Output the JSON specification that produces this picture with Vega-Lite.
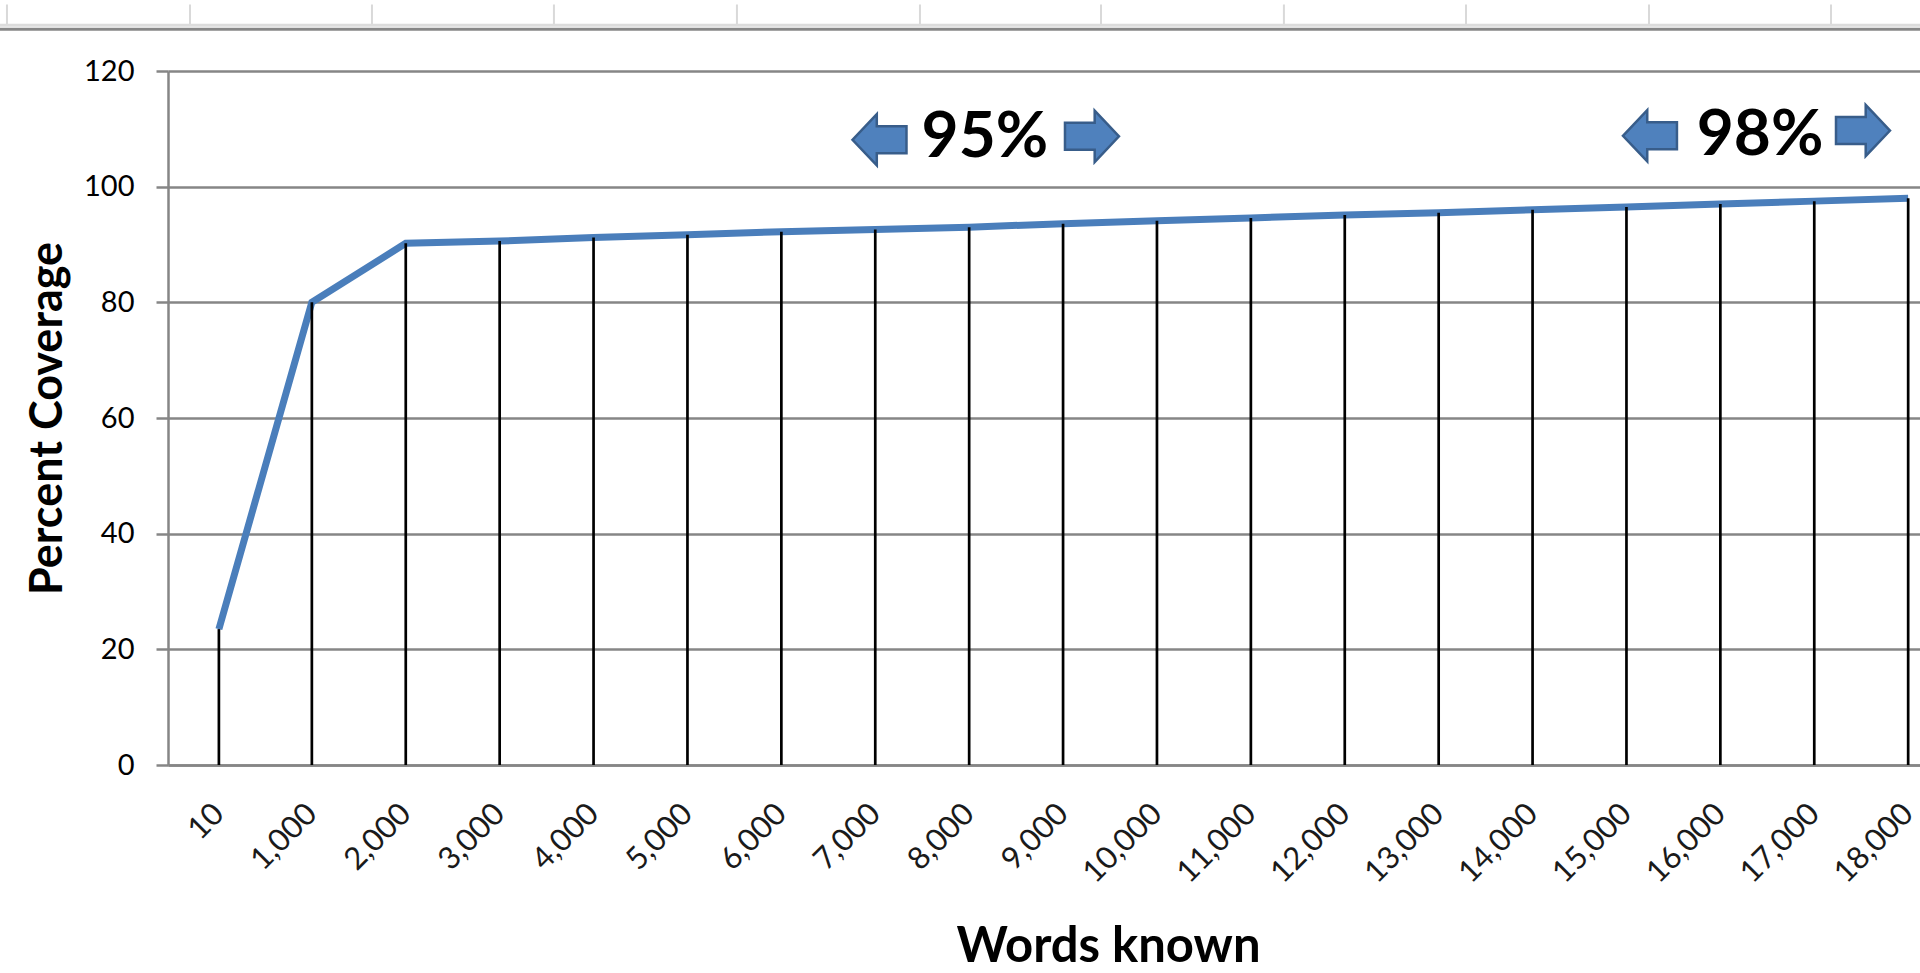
{
  "$schema": "https://vega.github.io/schema/vega-lite/v6.json",
  "width": 1752,
  "height": 694,
  "autosize": {"type": "none"},
  "padding": {"left": 168, "top": 71, "right": 0, "bottom": 208},
  "background": "#ffffff",
  "config": {
    "font": "Lato",
    "view": {"stroke": null}
  },
  "datasets": {
    "coverage": [
      {"words": 10, "coverage": 23.5, "base": 0},
      {"words": 1000, "coverage": 80, "base": 0},
      {"words": 2000, "coverage": 90.2, "base": 0},
      {"words": 3000, "coverage": 90.6, "base": 0},
      {"words": 4000, "coverage": 91.2, "base": 0},
      {"words": 5000, "coverage": 91.7, "base": 0},
      {"words": 6000, "coverage": 92.2, "base": 0},
      {"words": 7000, "coverage": 92.6, "base": 0},
      {"words": 8000, "coverage": 93.0, "base": 0},
      {"words": 9000, "coverage": 93.6, "base": 0},
      {"words": 10000, "coverage": 94.1, "base": 0},
      {"words": 11000, "coverage": 94.6, "base": 0},
      {"words": 12000, "coverage": 95.1, "base": 0},
      {"words": 13000, "coverage": 95.5, "base": 0},
      {"words": 14000, "coverage": 96.0, "base": 0},
      {"words": 15000, "coverage": 96.5, "base": 0},
      {"words": 16000, "coverage": 97.0, "base": 0},
      {"words": 17000, "coverage": 97.5, "base": 0},
      {"words": 18000, "coverage": 98.0, "base": 0}
    ],
    "thresholds": [
      {"label": "95%", "at": 8168, "level": 108.5},
      {"label": "98%", "at": 16422, "level": 108.8}
    ],
    "arrows": [
      {"dir": "left", "at": 7045, "level": 108.1},
      {"dir": "right", "at": 9308, "level": 108.7},
      {"dir": "left", "at": 15250, "level": 108.8},
      {"dir": "right", "at": 17519, "level": 109.7}
    ],
    "sheetColumns": [
      {"edge": -2247, "top": 131.5, "bottom": 127.9},
      {"edge": -298, "top": 131.5, "bottom": 127.9},
      {"edge": 1640, "top": 131.5, "bottom": 127.9},
      {"edge": 3578, "top": 131.5, "bottom": 127.9},
      {"edge": 5527, "top": 131.5, "bottom": 127.9},
      {"edge": 7476, "top": 131.5, "bottom": 127.9},
      {"edge": 9404, "top": 131.5, "bottom": 127.9},
      {"edge": 11352, "top": 131.5, "bottom": 127.9},
      {"edge": 13291, "top": 131.5, "bottom": 127.9},
      {"edge": 15240, "top": 131.5, "bottom": 127.9},
      {"edge": 17178, "top": 131.5, "bottom": 127.9}
    ],
    "sheetBorder": [
      {"from": -2400, "to": 18200, "row": 127.9, "kind": "light"},
      {"from": -2400, "to": 18200, "row": 127.2, "kind": "dark"}
    ]
  },
  "layer": [
    {
      "data": {"name": "coverage"},
      "mark": {"type": "line", "color": "#4A7EBB", "strokeWidth": 7},
      "encoding": {
        "x": {
          "field": "words",
          "type": "quantitative",
          "scale": {"domain": [-532, 18126], "nice": false, "zero": false},
          "axis": {
            "title": "Words known",
            "values": [10, 1000, 2000, 3000, 4000, 5000, 6000, 7000, 8000, 9000, 10000, 11000, 12000, 13000, 14000, 15000, 16000, 17000, 18000],
            "format": ",d",
            "grid": false,
            "ticks": false,
            "tickSize": 0,
            "domainColor": "#868686",
            "domainWidth": 2.5,
            "labelAngle": -45,
            "labelAlign": "right",
            "labelBaseline": "middle",
            "labelPadding": 44,
            "labelFontSize": 31,
            "labelColor": "#1a1a1a",
            "labelOverlap": false,
            "labelFlush": false,
            "labelBound": false,
            "titleFontSize": 49,
            "titleFontWeight": "bold",
            "titleColor": "#000000",
            "titleX": 940,
            "titleY": 196,
            "titleAlign": "center",
            "titleBaseline": "alphabetic"
          }
        },
        "y": {
          "field": "coverage",
          "type": "quantitative",
          "scale": {"domain": [0, 120], "nice": false},
          "axis": {
            "title": "Percent Coverage",
            "values": [0, 20, 40, 60, 80, 100, 120],
            "grid": true,
            "gridColor": "#868686",
            "gridWidth": 2.5,
            "gridOpacity": 1,
            "domainColor": "#868686",
            "domainWidth": 2.5,
            "tickColor": "#868686",
            "tickWidth": 2.5,
            "tickSize": 12,
            "labelFontSize": 29,
            "labelColor": "#000000",
            "labelPadding": 22,
            "labelBaseline": "middle",
            "titleFontSize": 45,
            "titleFontWeight": "bold",
            "titleColor": "#000000",
            "titlePadding": 13
          }
        }
      }
    },
    {
      "data": {"name": "coverage"},
      "mark": {"type": "rule", "color": "#000000", "strokeWidth": 2.7},
      "encoding": {
        "x": {"field": "words", "type": "quantitative"},
        "y": {"field": "base", "type": "quantitative"},
        "y2": {"field": "coverage"}
      }
    },
    {
      "data": {"name": "arrows"},
      "mark": {"type": "point", "filled": true, "fill": "#4F81BD", "stroke": "#385D8A", "strokeWidth": 2.5, "opacity": 1, "size": 2916},
      "encoding": {
        "x": {"field": "at", "type": "quantitative"},
        "y": {"field": "level", "type": "quantitative"},
        "shape": {
          "field": "dir",
          "type": "nominal",
          "legend": null,
          "scale": {
            "domain": ["left", "right"],
            "range": [
              "M-1,0 L-0.1,-0.95 L-0.1,-0.5 L1,-0.5 L1,0.5 L-0.1,0.5 L-0.1,0.95 Z",
              "M1,0 L0.1,-0.95 L0.1,-0.5 L-1,-0.5 L-1,0.5 L0.1,0.5 L0.1,0.95 Z"
            ]
          }
        }
      }
    },
    {
      "data": {"name": "thresholds"},
      "mark": {"type": "text", "fontSize": 64, "fontWeight": "bold", "color": "#000000", "align": "center", "baseline": "middle"},
      "encoding": {
        "x": {"field": "at", "type": "quantitative"},
        "y": {"field": "level", "type": "quantitative"},
        "text": {"field": "label"}
      }
    },
    {
      "data": {"name": "sheetColumns"},
      "mark": {"type": "rule", "color": "#d9d9d9", "strokeWidth": 2},
      "encoding": {
        "x": {"field": "edge", "type": "quantitative"},
        "y": {"field": "top", "type": "quantitative"},
        "y2": {"field": "bottom"}
      }
    },
    {
      "data": {"name": "sheetBorder"},
      "mark": {"type": "rule", "strokeWidth": 3},
      "encoding": {
        "x": {"field": "from", "type": "quantitative"},
        "x2": {"field": "to"},
        "y": {"field": "row", "type": "quantitative"},
        "color": {
          "field": "kind",
          "type": "nominal",
          "legend": null,
          "scale": {"domain": ["light", "dark"], "range": ["#dcdcdc", "#878787"]}
        }
      }
    }
  ]
}
